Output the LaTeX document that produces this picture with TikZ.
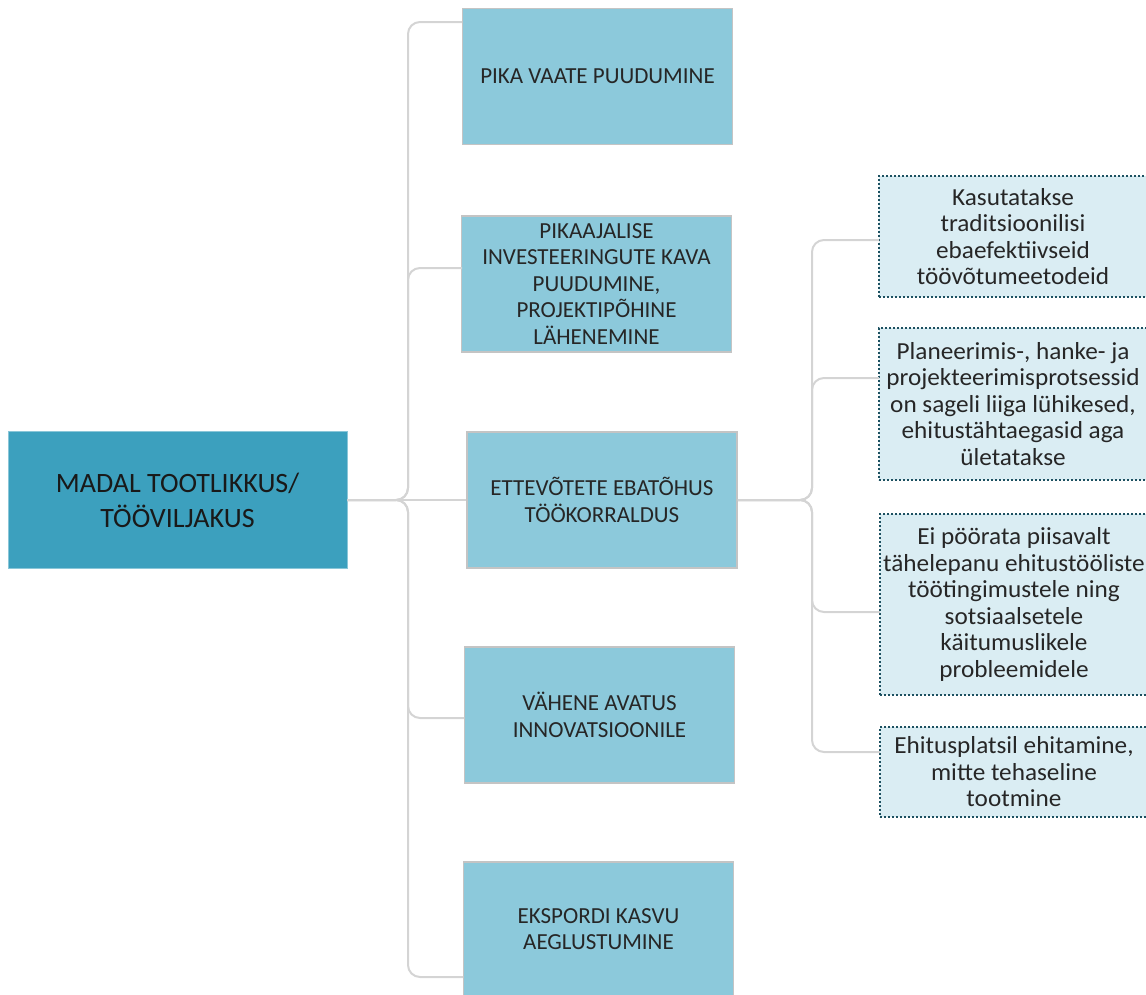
\documentclass[tikz,border=0pt]{standalone}
\usepackage{fontspec}
\setmainfont{Carlito}
\newfontfamily\laiemkiri[FakeStretch=1.03]{Carlito}

\definecolor{peafill}{RGB}{60,160,190}
\definecolor{pohjusfill}{RGB}{140,201,219}
\definecolor{pohjusjoon}{RGB}{196,196,196}
\definecolor{detailfill}{RGB}{218,237,243}
\definecolor{detailjoon}{RGB}{28,80,96}
\definecolor{harujoon}{RGB}{212,212,212}

\tikzset{
  peamine/.style={fill=peafill, draw=peafill!60!white, line width=0.8pt, inner sep=0pt,
    minimum width=339pt, minimum height=137pt, align=center, text=black!90,
    font=\fontsize{28}{35}\selectfont},
  pohjus/.style={fill=pohjusfill, draw=pohjusjoon, line width=1.5pt, inner sep=0pt,
    minimum width=270pt, minimum height=136pt, align=center, text=black!85,
    font=\fontsize{23}{26.5}\selectfont},
  detail/.style={fill=detailfill, draw=detailjoon, line width=2pt, dash pattern=on 2pt off 2pt,
    inner sep=0pt, minimum width=268pt, align=center, text=black!85,
    font=\laiemkiri\fontsize{24.5}{26.5}\selectfont},
  haru/.style={draw=harujoon, line width=2pt, rounded corners=12pt},
}

\begin{document}
\begin{tikzpicture}[x=1pt,y=-1pt]
\useasboundingbox (0,0) rectangle (1146,994);

% Marking main box
\node[peamine] (madal) at (177.5,500) {MADAL TOOTLIKKUS/\\TÖÖVILJAKUS};

% Marking cause boxes
\node[pohjus] (vaade) at (597.5,76.5) {PIKA VAATE PUUDUMINE};
\node[pohjus] (kava) at (596.5,284) {PIKAAJALISE\\INVESTEERINGUTE KAVA\\PUUDUMINE,\\PROJEKTIPÕHINE\\LÄHENEMINE};
\node[pohjus] (korraldus) at (602,500) {ETTEVÕTETE EBATÕHUS\\TÖÖKORRALDUS};
\node[pohjus] (avatus) at (599.5,715) {VÄHENE AVATUS\\INNOVATSIOONILE};
\node[pohjus, minimum height=134pt] (eksport) at (598.5,929) {EKSPORDI KASVU\\AEGLUSTUMINE};

% Marking detail boxes
\node[detail, minimum height=121pt] (meetodid) at (1013,236.5) {Kasutatakse\\traditsioonilisi\\ebaefektiivseid\\töövõtumeetodeid};
\node[detail, minimum height=152pt] (protsessid) at (1013,404) {Planeerimis-, hanke- ja\\projekteerimisprotsessid\\on sageli liiga lühikesed,\\ehitustähtaegasid aga\\ületatakse};
\node[detail, minimum height=181pt] (tingimused) at (1014,604.5) {Ei pöörata piisavalt\\tähelepanu ehitustööliste\\töötingimustele ning\\sotsiaalsetele\\käitumuslikele\\probleemidele};
\node[detail, minimum height=90pt] (tootmine) at (1014,772) {Ehitusplatsil ehitamine,\\mitte tehaseline\\tootmine};

% Marking branch ends
\coordinate (vaade in) at (462,22);
\coordinate (kava in) at (462,268);
\coordinate (avatus in) at (464,718);
\coordinate (eksport in) at (463,977);
\coordinate (meetodid in) at (879,240);
\coordinate (protsessid in) at (879,378);
\coordinate (tingimused in) at (880,612);
\coordinate (tootmine in) at (880,752);

% Drawing left brace
\draw[haru] (madal.east) -- (408,500) -- (408,22) -- (vaade in);
\draw[haru] (madal.east) -- (408,500) -- (408,268) -- (kava in);
\draw[haru] (madal.east) -- (korraldus.west);
\draw[haru] (madal.east) -- (408,500) -- (408,718) -- (avatus in);
\draw[haru] (madal.east) -- (408,500) -- (408,977) -- (eksport in);

% Drawing right brace
\draw[haru] (korraldus.east) -- (812,500) -- (812,240) -- (meetodid in);
\draw[haru] (korraldus.east) -- (812,500) -- (812,378) -- (protsessid in);
\draw[haru] (korraldus.east) -- (812,500) -- (812,612) -- (tingimused in);
\draw[haru] (korraldus.east) -- (812,500) -- (812,752) -- (tootmine in);
\end{tikzpicture}
\end{document}
